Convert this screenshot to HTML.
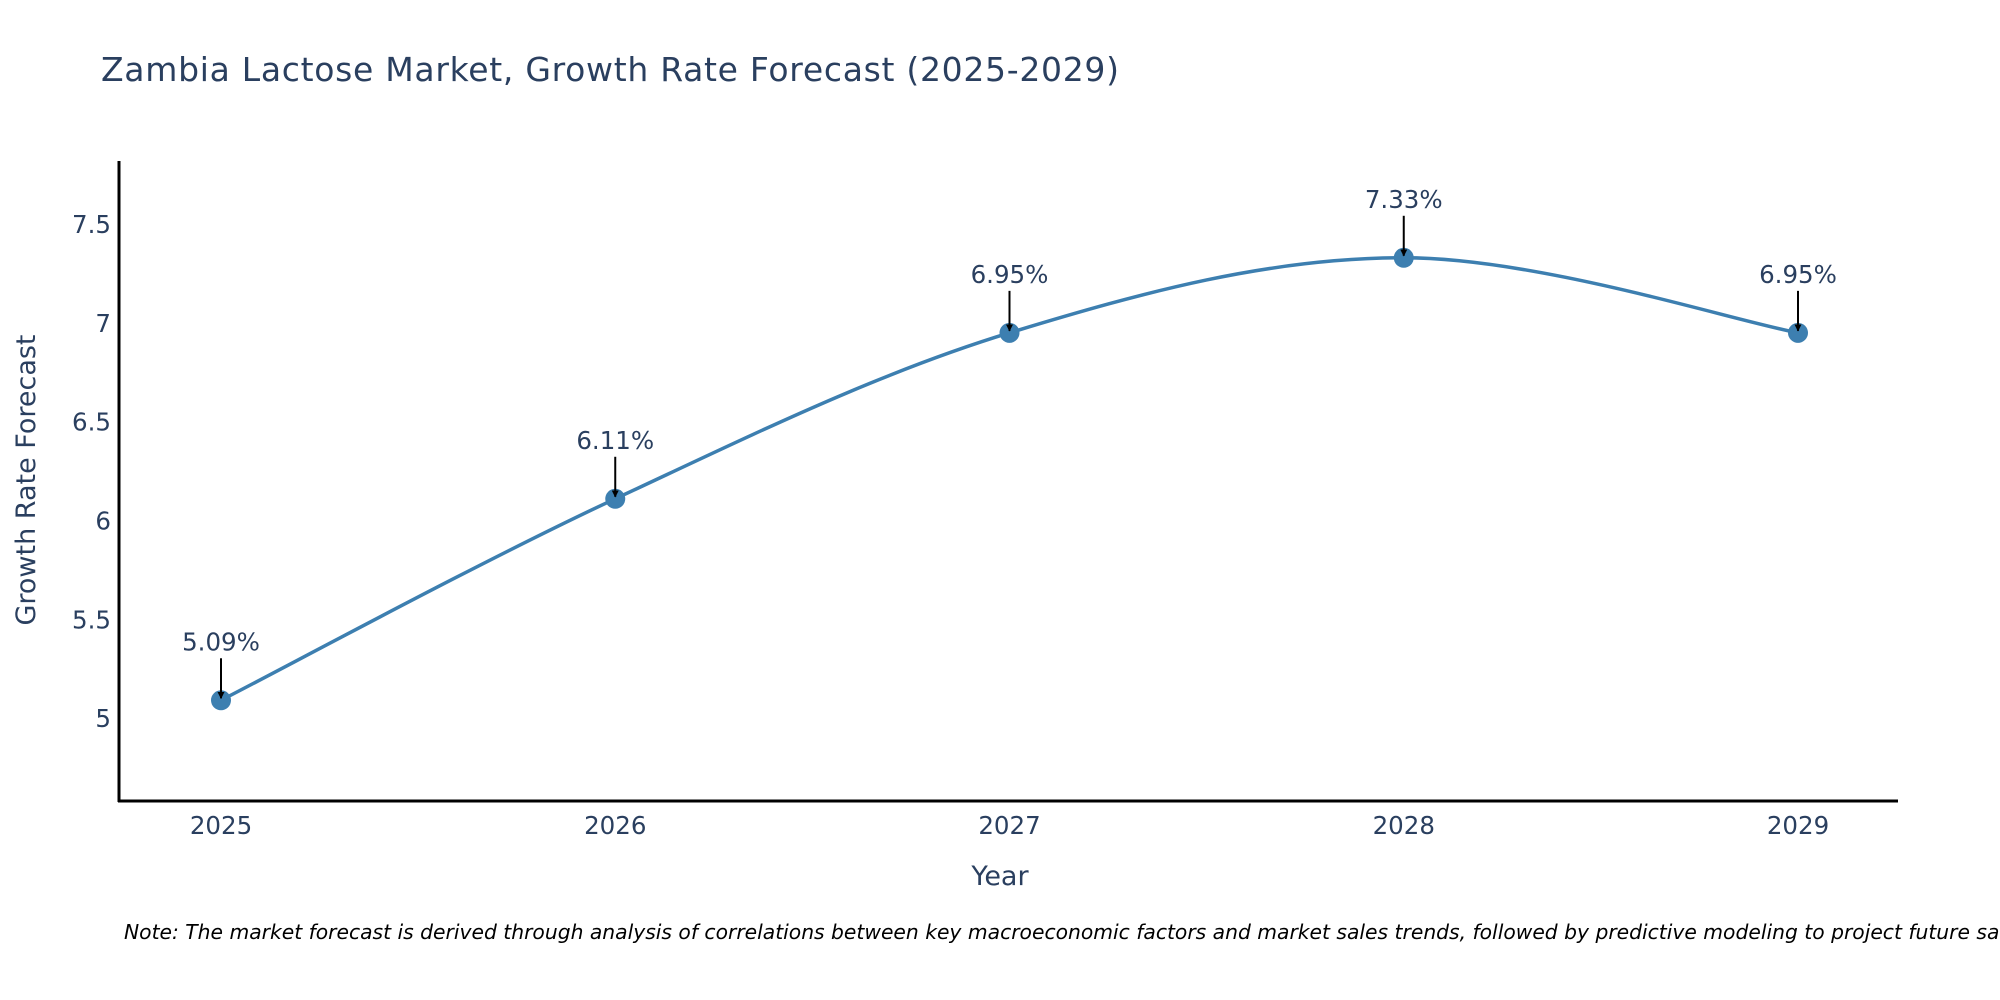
<!DOCTYPE html>
<html><head><meta charset="utf-8"><style>
html,body{margin:0;padding:0;background:#fff;}
svg{display:block;font-family:"DejaVu Sans","Liberation Sans",sans-serif;}
</style></head><body>
<svg id="chart" width="2000" height="1000" viewBox="0 0 2000 1000">
<defs><marker id="arr" viewBox="0 0 10 10" refX="9" refY="5" markerWidth="7" markerHeight="7" markerUnits="userSpaceOnUse" orient="auto"><path d="M0,0 L10,5 L0,10 z" fill="#000"/></marker></defs>
<text x="101" y="81" font-size="33" fill="#2a3f5f" textLength="1018">Zambia Lactose Market, Growth Rate Forecast (2025-2029)</text>
<g id="axes"></g>
<g id="series"></g>
<text x="1000" y="885" font-size="27" fill="#2a3f5f" text-anchor="middle">Year</text>
<text transform="translate(35,480) rotate(-90)" font-size="27" fill="#2a3f5f" text-anchor="middle">Growth Rate Forecast</text>
<text x="124" y="939" font-size="20.3" font-style="italic" fill="#000">Note: The market forecast is derived through analysis of correlations between key macroeconomic factors and market sales trends, followed by predictive modeling to project future sales.</text>
</svg>
<script>
const years = [2025, 2026, 2027, 2028, 2029];
const values = [5.09, 6.11, 6.95, 7.33, 6.95];
const labels = ["5.09%", "6.11%", "6.95%", "7.33%", "6.95%"];
const yTicks = [5, 5.5, 6, 6.5, 7, 7.5];
const yTickLabels = ["5", "5.5", "6", "6.5", "7", "7.5"];

const NS = "http://www.w3.org/2000/svg";
const L = 119, R = 1898, T = 161, B = 801;
const yMin = 4.58, yMax = 7.82;
const xFirst = 2025, xLast = 2029, xL = 221, xR = 1798;
function xs(v){ return xL + (v - xFirst) / (xLast - xFirst) * (xR - xL); }
function ys(v){ return B - (v - yMin) / (yMax - yMin) * (B - T); }
function el(tag, attrs, parent){ const e = document.createElementNS(NS, tag); for (const k in attrs) e.setAttribute(k, attrs[k]); parent.appendChild(e); return e; }

const axes = document.getElementById('axes');
const yl = el('line', {x1:L, y1:T, x2:L, y2:B+1, stroke:'#000', 'stroke-width':3}, axes);


const xl = el('line', {x1:L-1, y1:B, x2:R, y2:B, stroke:'#000', 'stroke-width':3}, axes);


yTicks.forEach((t, i) => {
  const tx = el('text', {x:L-8, y:ys(t)+9, 'font-size':24.5, fill:'#2a3f5f', 'text-anchor':'end'}, axes);
  tx.textContent = yTickLabels[i];
  
  
});
years.forEach(yr => {
  const tx = el('text', {x:xs(yr), y:834, 'font-size':24.5, fill:'#2a3f5f', 'text-anchor':'middle'}, axes);
  tx.textContent = String(yr);
  
  
});

const g = document.getElementById('series');
const pts = years.map((yr, i) => [xs(yr), ys(values[i])]);
let d = 'M' + pts[0][0] + ',' + pts[0][1];
const s = 0.17;
for (let i = 0; i < pts.length - 1; i++) {
  const p0 = pts[Math.max(0, i-1)], p1 = pts[i], p2 = pts[i+1], p3 = pts[Math.min(pts.length-1, i+2)];
  const c1 = [p1[0] + (p2[0]-p0[0])*s, p1[1] + (p2[1]-p0[1])*s];
  const c2 = [p2[0] - (p3[0]-p1[0])*s, p2[1] - (p3[1]-p1[1])*s];
  d += ' C' + c1 + ' ' + c2 + ' ' + p2;
}
const line = el('path', {d:d, fill:'none', stroke:'#3d7fb0', 'stroke-width':3.5}, g);


pts.forEach((p, i) => {
  const c = el('circle', {cx:p[0], cy:p[1], r:10, fill:'#3d7fb0'}, g);
  
  
  const a = el('line', {x1:p[0], y1:p[1]-42, x2:p[0], y2:p[1]-2, stroke:'#000', 'stroke-width':2, 'marker-end':'url(#arr)'}, g);
  
  
  const t = el('text', {x:p[0], y:p[1]-50, 'font-size':24.5, fill:'#2a3f5f', 'text-anchor':'middle'}, g);
  t.textContent = labels[i];
  
  
});
</script>
</body></html>
